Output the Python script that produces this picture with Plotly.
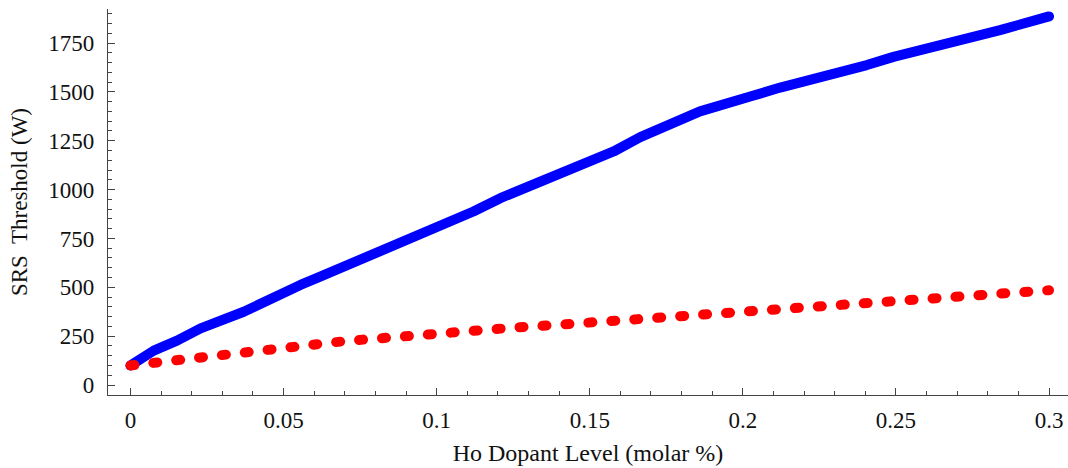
import plotly.graph_objects as go

# Blue solid curve
blue_x = [0, 0.0076, 0.0152, 0.0229, 0.037, 0.0424, 0.0555, 0.061, 0.0664, 0.074,
          0.1012, 0.112, 0.1208, 0.1578, 0.1665, 0.186, 0.2024, 0.2122, 0.2405, 0.2492,
          0.284, 0.2927, 0.3]
blue_y = [100, 176, 227, 290, 375, 418, 512, 548, 583, 645,
          815, 888, 956, 1195, 1268, 1400, 1476, 1522, 1637, 1679,
          1816, 1859, 1886]

# Red dotted curve
red_x = [0, 0.0087, 0.0165, 0.0245, 0.0323, 0.0403, 0.0479, 0.0555, 0.0633, 0.0713,
         0.0791, 0.087, 0.0949, 0.1025, 0.111, 0.1186, 0.126, 0.1338, 0.142, 0.1496,
         0.1578, 0.1654, 0.1732, 0.1814, 0.1891, 0.197, 0.2048, 0.2127, 0.2206, 0.2285,
         0.2363, 0.244, 0.2519, 0.2597, 0.2677, 0.2755, 0.2835, 0.2913, 0.3]
red_y = [100, 116, 137, 145, 165, 176, 186, 203, 215, 227,
         236, 248, 256, 265, 278, 287, 295, 302, 311, 316,
         328, 338, 345, 353, 364, 367, 375, 384, 393, 405,
         413, 422, 423, 435, 444, 456, 464, 475, 485]

x_ticks = [0, 0.05, 0.1, 0.15, 0.2, 0.25, 0.3]
x_labels = ["0", "0.05", "0.1", "0.15", "0.2", "0.25", "0.3"]
y_ticks = [0, 250, 500, 750, 1000, 1250, 1500, 1750]
y_labels = ["0", "250", "500", "750", "1000", "1250", "1500", "1750"]

font = "Liberation Serif, Times New Roman, serif"

fig = go.Figure()
fig.add_trace(go.Scatter(x=blue_x, y=blue_y, mode="lines",
                         line=dict(color="#0000ff", width=10), showlegend=False))
fig.add_trace(go.Scatter(x=red_x, y=red_y, mode="lines",
                         line=dict(color="#ff0000", width=10, dash="4px,19px"),
                         showlegend=False))

axis_common = dict(showline=True, linecolor="#444", linewidth=1.3, showgrid=False,
                   zeroline=False, ticks="inside", tickcolor="#444", tickwidth=1.2,
                   ticklen=7, tickfont=dict(family=font, size=23, color="#111"),
                   mirror=False, automargin=False)

fig.update_xaxes(range=[-0.00734, 0.3062], tickvals=x_ticks, ticktext=x_labels,
                 minor=dict(ticks="inside", dtick=0.01, tick0=0, ticklen=4,
                            tickcolor="#444", tickwidth=1),
                 title=dict(text="Ho Dopant Level (molar %)",
                            font=dict(family=font, size=24, color="#111"), standoff=12),
                 ticklabelstandoff=4, ticklabeloverflow="allow", **axis_common)
fig.update_yaxes(range=[-51, 1924], tickvals=y_ticks, ticktext=y_labels,
                 minor=dict(ticks="inside", dtick=50, tick0=0, ticklen=4,
                            tickcolor="#444", tickwidth=1),
                 title=dict(text="SRS  Threshold (W)",
                            font=dict(family=font, size=23, color="#111"), standoff=14),
                 ticklabelstandoff=8, **axis_common)

fig.update_layout(width=1068, height=468, plot_bgcolor="white", paper_bgcolor="white",
                  margin=dict(l=108, r=0, t=9, b=73))

post = """
document.body.style.margin='0';
document.body.style.overflow='hidden';
var gd = document.getElementById('{plot_id}');
function rc(){ gd.querySelectorAll('.scatterlayer path.js-line').forEach(function(p){
  p.style.strokeLinecap='round'; p.style.strokeLinejoin='round'; }); }
rc(); gd.on('plotly_afterplot', rc);
"""
fig.write_html("out.html", post_script=post, config={"displayModeBar": False})
